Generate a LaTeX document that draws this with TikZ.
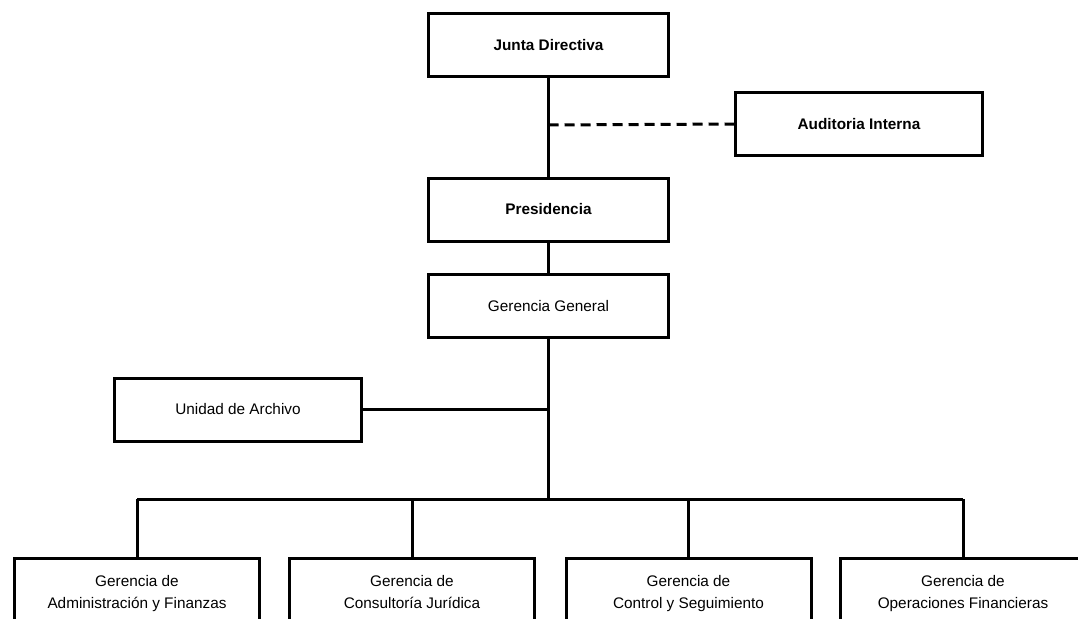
\documentclass[tikz,border=0pt]{standalone}
\usepackage{fontspec}
\setmainfont{Liberation Sans}

\begin{document}
\begin{tikzpicture}
[x=0.75pt,y=-0.75pt,
  boxDecorate/.style={shape=rectangle,draw,line width=2.25pt,minimum height=47.25pt,inner sep=2pt,align=center},%
  lowDecorate/.style={boxDecorate,minimum width=183.75pt,minimum height=54.75pt},%
  lineDecorate/.style={line width=2.25pt},%
  dashDecorate/.style={line width=2.25pt,dash pattern=on 7.5pt off 4.5pt},%
  font=\fontsize{11.5}{16.5}\selectfont]
\useasboundingbox (0,0) rectangle (1078,618);
%% upper boxes
\foreach \nodename/\x/\y/\w/\txt in {junta/548.5/45/180/{\bfseries Junta Directiva},
  auditoria/859/124/185.25/{\bfseries Auditoria Interna},
  presidencia/548.5/209.5/180/{\bfseries Presidencia},
  gerencia/548.5/306/180/{Gerencia General},
  archivo/238/409.5/185.25/{Unidad de Archivo}}
{
  \node (\nodename) at (\x,\y) [boxDecorate,minimum width=\w pt] {\txt};
}
%% lower boxes
\foreach \nodename/\x/\txt in {admin/137/{Administración y Finanzas},
  juridica/412/{Consultoría Jurídica},
  control/688.5/{Control y Seguimiento},
  operaciones/963/{Operaciones Financieras}}
{
  \node (\nodename) at (\x,595) [lowDecorate] {Gerencia de\\\txt\strut};
}
%% joints
\coordinate (dashJoin) at (548.5,125);
\coordinate (busJoin) at (548.5,499);
%% lines
\draw[lineDecorate] (junta.south) -- (presidencia.north);
\draw[dashDecorate] (dashJoin) -- (auditoria.west);
\draw[lineDecorate] (presidencia.south) -- (gerencia.north);
\draw[lineDecorate] (gerencia.south) -- (busJoin);
\draw[lineDecorate] (archivo.east) -- (archivo.east -| gerencia.south);
\draw[lineDecorate] (admin.north |- busJoin) -- (operaciones.north |- busJoin);
\foreach \endnode in {admin, juridica, control, operaciones}
{
  \draw[lineDecorate] (\endnode.north |- busJoin) -- (\endnode.north);
}
\end{tikzpicture}
\end{document}
